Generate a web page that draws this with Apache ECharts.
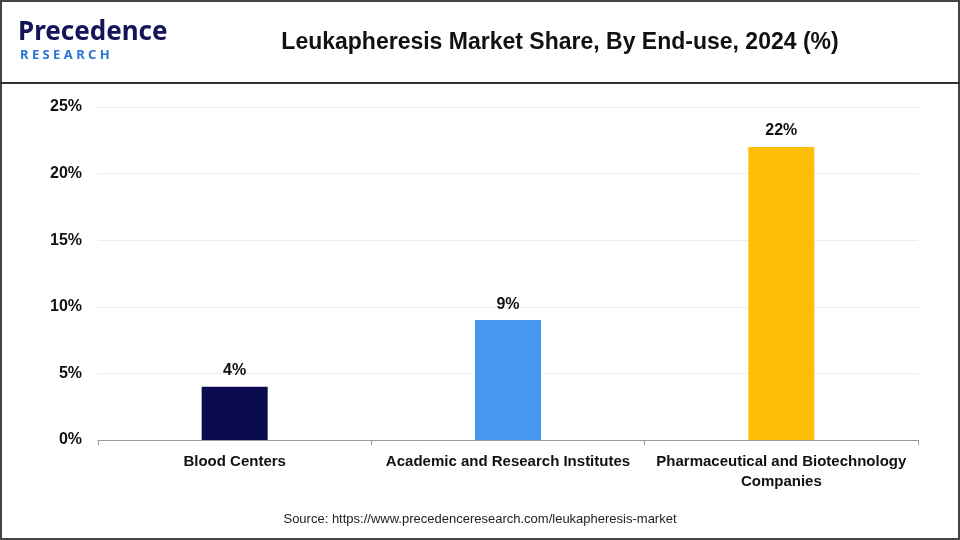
<!DOCTYPE html>
<html><head><meta charset="utf-8">
<script src="https://cdn.jsdelivr.net/npm/echarts@6/dist/echarts.min.js"></script>
<style>html,body{margin:0;padding:0;background:#fff}#c{width:960px;height:540px}</style>
</head><body><div id="c"></div>
<script>
const categories = ['Blood Centers', 'Academic and Research Institutes', 'Pharmaceutical and Biotechnology\nCompanies'];
const values = [4, 9, 22];
const colors = ['#0b0b4f', '#4796f0', '#fcbf05'];
const F = '"Liberation Sans", Arial, sans-serif';
const chart = echarts.init(document.getElementById('c'));
chart.setOption({
  animation: false,
  graphic: [
    {type:'rect', shape:{x:1,y:1,width:958,height:538}, style:{fill:'none', stroke:'#444', lineWidth:2}},
    {type:'line', shape:{x1:0,y1:83,x2:960,y2:83}, style:{stroke:'#333', lineWidth:2}},
    {type:'text', x:18, y:20, style:{text:'Precedence', font:'bold 26px "Noto Sans"', fill:'#14145a'}},
    {type:'text', x:20, y:49, style:{text:'R E S E A R C H', font:'bold 13px "Noto Sans"', fill:'#2a74d8'}},
    {type:'text', x:560, y:31, style:{text:'Leukapheresis Market Share, By End-use, 2024 (%)', font:'bold 23px ' + F, fill:'#111', textAlign:'center'}},
    {type:'text', x:480, y:513, style:{text:'Source: https://www.precedenceresearch.com/leukapheresis-market', font:'13px ' + F, fill:'#222', textAlign:'center'}}
  ],
  grid: {left:98, right:42, top:107, bottom:100},
  xAxis: {type:'category', data:categories,
    axisLine:{lineStyle:{color:'#999'}}, axisTick:{show:true, lineStyle:{color:'#999'}},
    axisLabel:{color:'#111', fontWeight:'bold', fontSize:15, fontFamily:F, interval:0, lineHeight:20, margin:12}},
  yAxis: {type:'value', min:0, max:25, interval:5,
    axisLabel:{formatter:'{value}%', color:'#111', fontWeight:'bold', fontSize:16, fontFamily:F, margin:16},
    splitLine:{lineStyle:{color:'#eee'}}},
  series: [{type:'bar', barWidth:66,
    data: values.map((v,i)=>({value:v, itemStyle:{color:colors[i]}})),
    label:{show:true, position:'top', formatter:'{c}%', color:'#111', fontWeight:'bold', fontSize:16, fontFamily:F, distance:8}}]
});
</script></body></html>
